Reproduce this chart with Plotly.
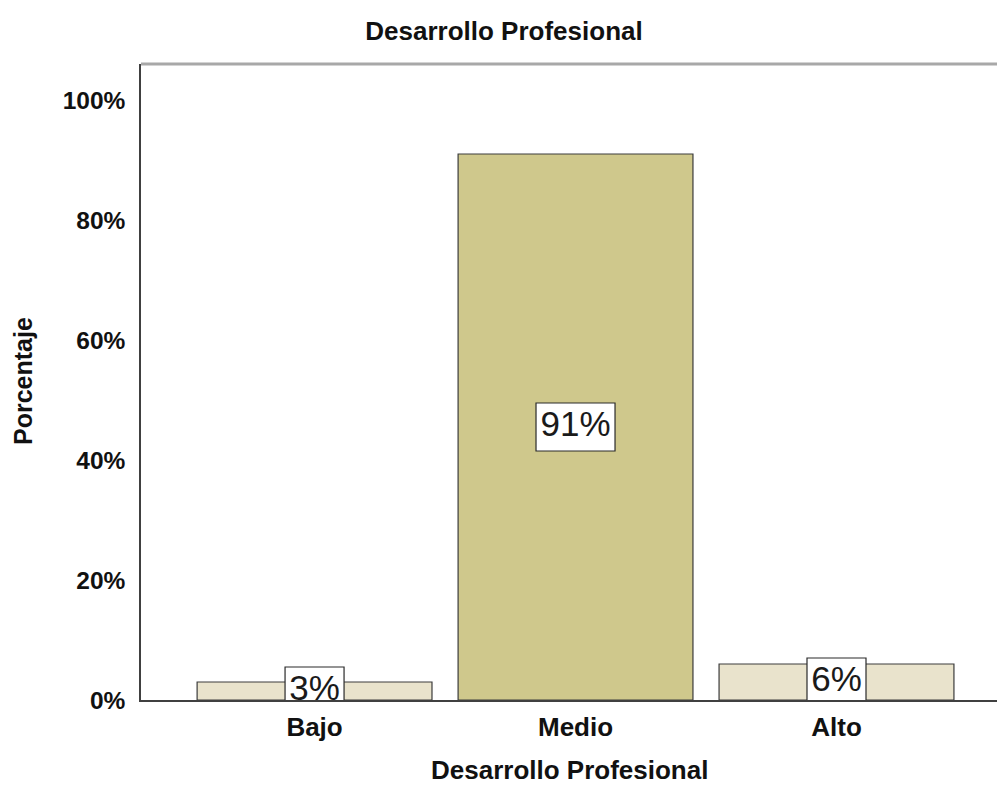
import plotly.graph_objects as go

# Data
categories = ["Bajo", "Medio", "Alto"]
percentages = [3, 91, 6]
y_tick_values = [0, 20, 40, 60, 80, 100]
y_tick_labels = ["0%", "20%", "40%", "60%", "80%", "100%"]

FONT = "Arial, 'Liberation Sans', sans-serif"
W, H = 997, 787
M_L, M_R, M_T, M_B = 141, 0, 64, 87
plot_w = W - M_L - M_R
plot_h = H - M_T - M_B

# axis geometry (pixels per unit)
x_range = [-0.665, 2.615]
y_range = [0, 106]
px_per_x = plot_w / (x_range[1] - x_range[0])
px_per_y = plot_h / (y_range[1] - y_range[0])

bar_colors = ["#E9E3CC", "#CFC88C", "#E9E3CC"]
labels = [f"{v}%" for v in percentages]
xpos = list(range(len(categories)))

fig = go.Figure()

fig.add_trace(go.Bar(
    x=xpos, y=percentages, width=0.9,
    marker=dict(color=bar_colors, line=dict(color="#3C3C3C", width=1.2)),
    hoverinfo="skip", showlegend=False,
))

# white label boxes centred at half the bar height (clipped by plot area)
box_h_px = 48
box_w_px = [39 + 20 * (len(lbl) - 1) for lbl in labels]
box_h = box_h_px / px_per_y
fig.add_trace(go.Bar(
    x=xpos,
    y=[box_h] * len(percentages),
    base=[v / 2 - box_h / 2 for v in percentages],
    width=[w / px_per_x for w in box_w_px],
    marker=dict(color="white", line=dict(color="#2A2A2A", width=1.2)),
    hoverinfo="skip", showlegend=False, cliponaxis=True,
))

fig.add_trace(go.Scatter(
    x=xpos, y=[v / 2 for v in percentages],
    mode="text", text=labels, textposition="middle center",
    textfont=dict(family=FONT, size=35, color="#1A1A1A"),
    cliponaxis=True, hoverinfo="skip", showlegend=False,
))

fig.update_layout(
    width=W, height=H,
    margin=dict(l=M_L, r=M_R, t=M_T, b=M_B),
    paper_bgcolor="white", plot_bgcolor="white",
    barmode="overlay",
    font=dict(family=FONT, color="#111111"),
    title=dict(
        text="<b>Desarrollo Profesional</b>",
        x=504 / W, xref="container", xanchor="center",
        y=1 - 31 / H, yref="container", yanchor="middle",
        font=dict(family=FONT, size=26, color="#111111"),
    ),
    xaxis=dict(
        range=x_range, tickvals=xpos,
        ticktext=[f"<b>{c}</b>" for c in categories],
        tickfont=dict(family=FONT, size=26, color="#111111"),
        showgrid=False, zeroline=False,
        showline=True, linecolor="#404040", linewidth=1.5,
        ticks="", ticklabelstandoff=3,
    ),
    yaxis=dict(
        range=y_range, tickvals=y_tick_values,
        ticktext=[f"<b>{t}</b>" for t in y_tick_labels],
        tickfont=dict(family=FONT, size=24.5, color="#111111"),
        showgrid=False, zeroline=False,
        showline=True, linecolor="#404040", linewidth=1.5,
        ticks="", ticklabelstandoff=9,
    ),
    shapes=[dict(
        type="line", xref="paper", yref="paper",
        x0=0, x1=1, y0=1, y1=1,
        line=dict(color="#A8A8A8", width=3),
    )],
    annotations=[
        dict(
            text="<b>Desarrollo Profesional</b>",
            xref="paper", yref="paper",
            x=0.5, y=-(770 - (H - M_B)) / plot_h,
            xanchor="center", yanchor="middle", showarrow=False,
            font=dict(family=FONT, size=26, color="#111111"),
        ),
        dict(
            text="<b>Porcentaje</b>", textangle=-90,
            xref="paper", yref="paper",
            x=(23 - M_L) / plot_w, y=1 - (381 - M_T) / plot_h,
            xanchor="center", yanchor="middle", showarrow=False,
            font=dict(family=FONT, size=25, color="#111111"),
        ),
    ],
)

fig.write_html("out.html")
